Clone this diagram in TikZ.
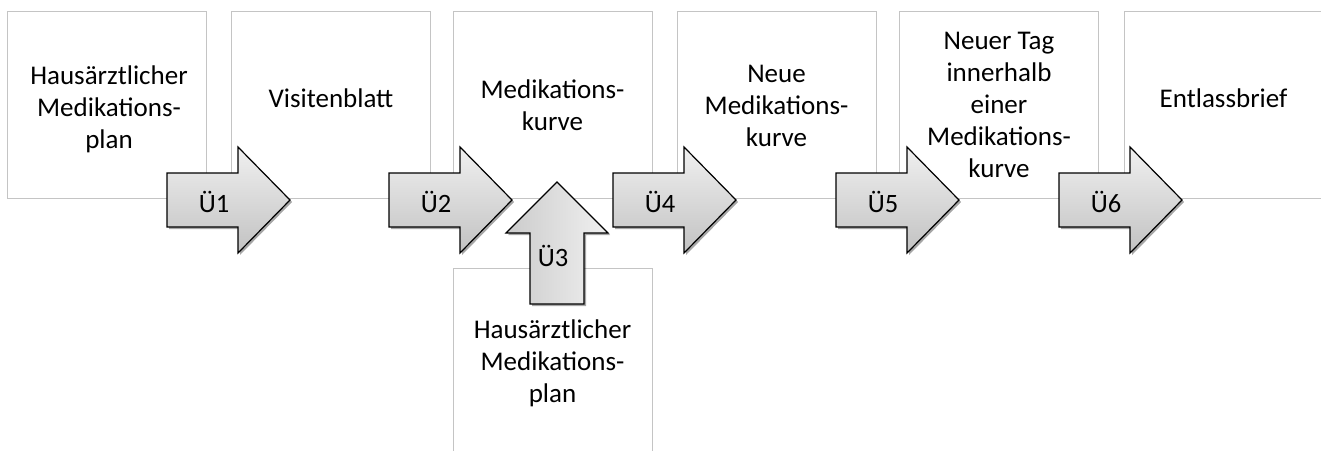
\documentclass[tikz,border=0pt]{standalone}
\usepackage{fontspec}
\setmainfont{Carlito}
\usetikzlibrary{shadows}
\definecolor{boxgray}{HTML}{C4C4C4}
\definecolor{arrtop}{HTML}{F0F0F0}
\definecolor{arrbot}{HTML}{C2C2C2}
\newcommand\myRightArrow[3]{%
  \draw[arr] (#1,173) -- (#1+71,173) -- (#1+71,147) -- (#1+123,200)
    -- (#1+71,253) -- (#1+71,227) -- (#1,227) -- cycle;
  \node[lbl] (#2) at (#1+47,202) {#3};}
\begin{document}
\begin{tikzpicture}[x=1pt,y=-1pt,
  box/.style={draw=boxgray, line width=0.9pt, minimum width=199pt, minimum height=187pt, inner sep=0pt},
  txt/.style={align=center, font=\fontsize{27}{32}\selectfont, inner sep=0pt, anchor=base},
  lbl/.style={font=\fontsize{26.5}{31}\selectfont, inner sep=0pt},
  arr/.style={draw=black, line width=1.2pt, line join=miter, top color=arrtop, bottom color=arrbot,
    drop shadow={shadow xshift=2pt, shadow yshift=-2pt, opacity=0.35, fill=black}},
  arrv/.style={draw=black, line width=1.2pt, line join=miter, left color=arrbot!80!arrtop, right color=arrtop,
    drop shadow={shadow xshift=2pt, shadow yshift=-2pt, opacity=0.35, fill=black}}]
\useasboundingbox (0,0) rectangle (1321,450);
\clip (0,0) rectangle (1321,450);
% boxes
\node[box] (b1) at (106.5,104.5) {};
\node[box] (b2) at (331,104.5) {};
\node[box] (b3) at (552.5,104.5) {};
\node[box] (b4) at (776.5,104.5) {};
\node[box] (b5) at (999,104.5) {};
\node[box] (b6) at (1223.5,104.5) {};
\node[box] (b7) at (552.5,361.5) {};
% texts (anchor = baseline of last line)
\node[txt] (t1) at (109,148) {Hausärztlicher\\Medikations-\\plan};
\node[txt] (t2) at (331,107) {Visitenblatt};
\node[txt] (t3) at (552.5,130) {Medikations-\\kurve};
\node[txt] (t4) at (776.5,146) {Neue\\Medikations-\\kurve};
\node[txt] (t5) at (999,177) {Neuer Tag\\innerhalb\\einer\\Medikations-\\kurve};
\node[txt] (t6) at (1223.5,107) {Entlassbrief};
\node[txt] (t7) at (552.5,402) {Hausärztlicher\\Medikations-\\plan};
% arrows
\myRightArrow{167}{u1}{Ü1}
\myRightArrow{389}{u2}{Ü2}
\draw[arrv] (530,304) -- (530,233) -- (506,233) -- (557,182) -- (608,233) -- (584,233) -- (584,304) -- cycle;
\node[lbl] (u3) at (553,256) {Ü3};
\myRightArrow{613}{u4}{Ü4}
\myRightArrow{836}{u5}{Ü5}
\myRightArrow{1059}{u6}{Ü6}
\end{tikzpicture}
\end{document}
